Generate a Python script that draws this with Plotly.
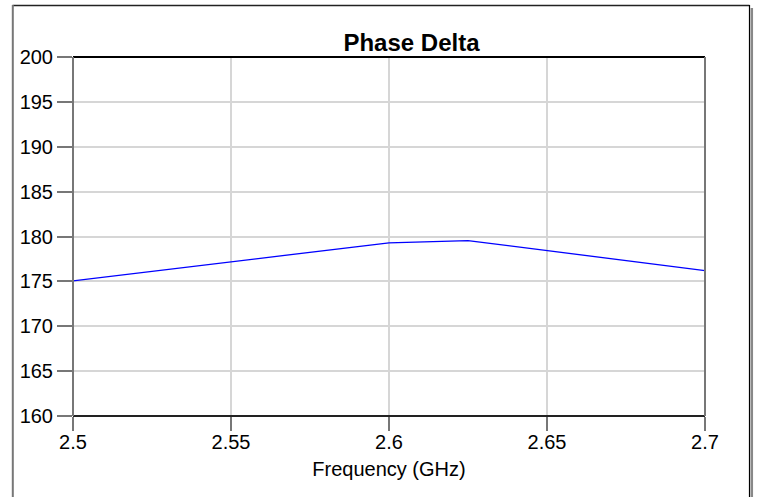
import plotly.graph_objects as go

freq = [2.5, 2.6, 2.625, 2.7]
phase_delta = [175.05, 179.3, 179.55, 176.2]
x_ticks = [2.5, 2.55, 2.6, 2.65, 2.7]
x_tick_labels = ["2.5", "2.55", "2.6", "2.65", "2.7"]
y_ticks = [160, 165, 170, 175, 180, 185, 190, 195, 200]

W, H = 758, 497
L, R, T, B = 73, 705, 57, 416
pw, ph = R - L, B - T

def px(x):
    return (x - L) / pw

def py(y):
    return (B - y) / ph

fig = go.Figure()
fig.add_trace(go.Scatter(x=freq, y=phase_delta, mode="lines",
                         line=dict(color="#0000ff", width=1.3),
                         showlegend=False, hoverinfo="x+y"))

font = dict(family="Liberation Sans, Arial, sans-serif", size=20, color="#000")

fig.update_layout(
    width=W, height=H,
    margin=dict(l=L, r=W - R, t=T, b=H - B, pad=0),
    paper_bgcolor="white", plot_bgcolor="white",
    font=font,
    title=dict(text="<b>Phase Delta</b>", x=px(411.5), xref="paper", xanchor="center",
               y=1 - 43 / H, yanchor="middle", font=dict(size=24, family=font["family"], color="#000")),
    xaxis=dict(range=[2.5, 2.7], tickvals=x_ticks, ticktext=x_tick_labels,
               showgrid=True, gridcolor="#d6d6d6", gridwidth=1.5,
               ticks="outside", ticklen=14, tickcolor="#777", tickwidth=2,
               ticklabelstandoff=-6,
               showline=False, zeroline=False,
               title=dict(text="Frequency (GHz)", standoff=9, font=font),
               tickfont=font),
    yaxis=dict(range=[160, 200], tickvals=y_ticks,
               showgrid=True, gridcolor="#d6d6d6", gridwidth=1.5,
               ticks="outside", ticklen=15, tickcolor="#777", tickwidth=2,
               showline=False, zeroline=False, tickfont=font),
    shapes=[
        # plot frame
        dict(type="line", xref="paper", yref="paper", x0=0, x1=1, y0=1, y1=1,
             line=dict(color="#000", width=2)),
        dict(type="line", xref="paper", yref="paper", x0=0, x1=1, y0=0, y1=0,
             line=dict(color="#222", width=2)),
        dict(type="line", xref="paper", yref="paper", x0=0, x1=0, y0=0, y1=1,
             line=dict(color="#777", width=2)),
        dict(type="line", xref="paper", yref="paper", x0=1, x1=1, y0=0, y1=1,
             line=dict(color="#777", width=2)),
        # outer panel frame
        dict(type="line", xref="paper", yref="paper", x0=px(12.5), x1=px(749.5),
             y0=py(5.5), y1=py(5.5), line=dict(color="#222", width=1.5)),
        dict(type="line", xref="paper", yref="paper", x0=px(12.8), x1=px(12.8),
             y0=py(5), y1=py(497), line=dict(color="#777", width=2)),
        dict(type="line", xref="paper", yref="paper", x0=px(749.5), x1=px(749.5),
             y0=py(5), y1=py(497), line=dict(color="#000", width=1.2)),
        dict(type="line", xref="paper", yref="paper", x0=px(751.8), x1=px(751.8),
             y0=py(8), y1=py(497), line=dict(color="#888", width=2.5)),
    ],
)

fig.write_html("out.html", config={"displayModeBar": False},
               post_script="document.body.style.margin='0';document.body.style.overflow='hidden';")
